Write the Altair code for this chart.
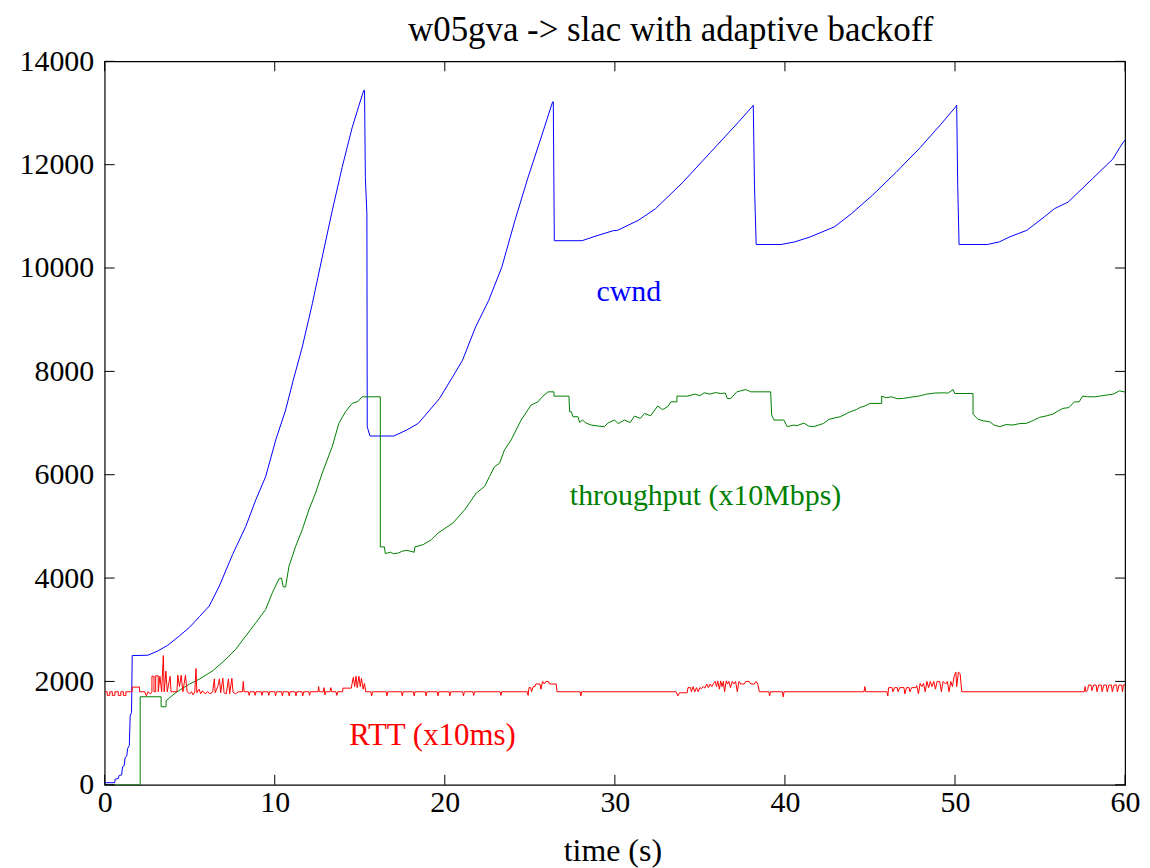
import altair as alt
import pandas as pd

# ---------------- data ----------------
cwnd_points = [
    (0, 40), (0.59, 40), (0.62, 110), (0.8, 120), (0.85, 180), (1.0, 190), (1.05, 350),
    (1.15, 370), (1.2, 520), (1.3, 560), (1.35, 700), (1.45, 760), (1.5, 1330), (1.58, 1400),
    (1.62, 2500), (2.54, 2507), (3.13, 2590), (3.71, 2700), (4.39, 2880), (5.0, 3050),
    (5.57, 3253), (6.15, 3459), (6.74, 3844), (7.52, 4455), (8.3, 5002), (8.89, 5516),
    (9.47, 5966), (10.06, 6673), (10.64, 7252), (11.09, 7830), (11.62, 8472), (12.21, 9308),
    (12.79, 10207), (13.38, 11107), (13.96, 11943), (14.55, 12714), (14.94, 13132),
    (15.23, 13434), (15.28, 13440), (15.33, 11750), (15.42, 11043), (15.44, 6929),
    (15.6, 6749), (17.0, 6749), (17.76, 6865), (18.44, 6994), (19.11, 7250), (19.69, 7476),
    (20.46, 7893), (21.04, 8215), (21.81, 8858), (22.58, 9372), (23.35, 10015),
    (24.12, 10915), (24.89, 11750), (25.66, 12522), (26.34, 13216), (26.38, 13216),
    (26.44, 10529), (28.07, 10529), (28.94, 10625), (29.9, 10722), (30.16, 10730),
    (31.38, 10923), (32.39, 11147), (34.0, 11660), (35.62, 12237), (37.24, 12814),
    (38.11, 13135), (38.14, 13150), (38.21, 11600), (38.31, 10455), (39.77, 10455),
    (40.58, 10506), (41.49, 10603), (42.9, 10795), (43.91, 11051), (45.13, 11404),
    (46.54, 11853), (47.96, 12333), (49.17, 12782), (50.08, 13135), (50.1, 13150),
    (50.16, 11600), (50.24, 10455), (51.9, 10455), (52.61, 10506), (53.22, 10603),
    (54.23, 10731), (55.24, 10987), (55.84, 11147), (56.65, 11276), (58.07, 11724),
    (59.28, 12109), (59.69, 12333), (60, 12480),
]

throughput_points = [
    (0, 0), (2.09, 0), (2.09, 1703), (3.32, 1703), (3.32, 1510), (3.61, 1510), (3.61, 1626),
    (4.2, 1787), (4.98, 1948), (5.57, 2044), (6.35, 2205), (7.13, 2430), (7.71, 2623),
    (8.3, 2880), (8.89, 3137), (9.47, 3394), (9.86, 3716), (10.25, 3986), (10.4, 4000),
    (10.5, 3830), (10.64, 3830), (10.84, 4230), (11.23, 4615), (11.62, 4937), (12.01, 5323),
    (12.4, 5644), (12.79, 6030), (13.38, 6544), (13.77, 6994), (14.16, 7219), (14.55, 7380),
    (14.9, 7420), (15.14, 7508), (16.21, 7508), (16.21, 4603), (16.45, 4603), (16.5, 4474),
    (16.8, 4500), (17.0, 4470), (17.28, 4487), (17.5, 4520), (17.77, 4538), (18.2, 4500),
    (18.24, 4603), (18.73, 4648), (19.22, 4744), (19.61, 4873), (20.48, 5066), (21.17, 5323),
    (21.85, 5644), (22.34, 5773), (22.63, 5966), (22.93, 6158), (23.22, 6223), (23.51, 6480),
    (23.9, 6673), (24.29, 6930), (24.49, 7058), (25.07, 7348), (25.48, 7411), (25.77, 7521),
    (26.07, 7604), (26.42, 7604), (26.42, 7521), (27.3, 7521), (27.34, 7218), (27.44, 7218),
    (27.54, 7122), (27.83, 7122), (27.93, 7013), (28.1, 7060), (28.3, 7000), (28.61, 6962),
    (29.0, 6943), (29.39, 6930), (29.59, 7000), (29.98, 7058), (30.2, 6990), (30.56, 7058),
    (30.9, 7010), (31.15, 7135), (31.5, 7090), (31.74, 7187), (32.1, 7140), (32.52, 7330),
    (32.8, 7260), (33.1, 7316), (33.3, 7411), (33.65, 7411), (33.65, 7521), (34.27, 7521),
    (34.7, 7560), (35.0, 7530), (35.25, 7585), (35.6, 7560), (35.9, 7590), (36.23, 7572),
    (36.5, 7580), (36.6, 7477), (36.82, 7477), (37.17, 7604), (37.7, 7649), (37.99, 7604),
    (39.16, 7604), (39.22, 7154), (39.36, 7058), (39.94, 7058), (40.13, 6930), (40.5, 6960),
    (40.72, 6950), (41.11, 7000), (41.4, 6940), (41.7, 6930), (42.28, 6994), (42.58, 7071),
    (43.07, 7110), (43.25, 7122), (43.6, 7180), (43.84, 7218), (44.2, 7260), (44.42, 7302),
    (44.7, 7330), (45.01, 7380), (45.69, 7380), (45.69, 7521), (45.95, 7490), (46.28, 7508),
    (46.6, 7470), (46.97, 7477), (47.4, 7500), (47.84, 7521), (48.1, 7540), (48.33, 7560),
    (48.8, 7580), (49.31, 7585), (49.6, 7580), (49.89, 7649), (49.99, 7572), (51.06, 7572),
    (51.06, 7173), (51.36, 7071), (51.7, 7040), (52.04, 7026), (52.3, 6960), (52.63, 6930),
    (53.0, 6970), (53.41, 6962), (53.8, 6990), (54.19, 6994), (54.6, 7050), (54.97, 7110),
    (55.4, 7140), (55.75, 7173), (56.1, 7240), (56.34, 7283), (56.7, 7300), (57.02, 7411),
    (57.3, 7411), (57.51, 7521), (57.8, 7510), (58.2, 7508), (58.5, 7520), (58.88, 7540),
    (59.3, 7560), (59.67, 7623), (60, 7600),
]

rtt_points = [
    (0, 1800), (0.15, 1800), (0.15, 1730), (0.3, 1730), (0.3, 1800), (0.45, 1800),
    (0.45, 1730), (0.6, 1730), (0.6, 1800), (0.8, 1800), (0.8, 1730), (0.95, 1730),
    (0.95, 1800), (1.1, 1800), (1.1, 1730), (1.25, 1730), (1.25, 1800), (1.62, 1800),
    (1.62, 1890), (2.05, 1890), (2.05, 1800), (2.35, 1800), (2.45, 1720), (2.55, 1800),
    (2.7, 1760), (2.78, 1800), (2.78, 2100), (2.9, 2100), (2.9, 1800), (3.0, 1800),
    (3.0, 2110), (3.15, 2110), (3.15, 1800), (3.25, 2100), (3.35, 1800), (3.45, 2500),
    (3.5, 1800), (3.6, 2200), (3.68, 1800), (3.85, 2100), (3.9, 1800), (4.25, 1800),
    (4.3, 2120), (4.4, 1900), (4.5, 2120), (4.6, 1800), (4.75, 2120), (4.85, 1800),
    (5.0, 1760), (5.1, 1800), (5.2, 1740), (5.3, 1800), (5.37, 2250), (5.42, 1780),
    (5.55, 1850), (5.65, 1760), (5.75, 1820), (5.9, 1760), (6.05, 1800), (6.2, 1760),
    (6.35, 1800), (6.45, 2050), (6.5, 1780), (6.65, 1900), (6.75, 2050), (6.82, 1780),
    (6.95, 2060), (7.02, 1780), (7.15, 1760), (7.28, 2050), (7.35, 1760), (7.48, 2060),
    (7.55, 1790), (7.7, 1760), (7.85, 1800), (8.1, 1800), (8.15, 2000), (8.2, 1800),
    (8.45, 1800), (8.5, 1730), (8.55, 1800), (8.8, 1800), (8.85, 1730), (8.9, 1800),
    (9.2, 1800), (9.25, 1730), (9.3, 1800), (9.6, 1800), (9.65, 1730), (9.7, 1800),
    (10.0, 1800), (10.05, 1720), (10.1, 1800), (10.4, 1800), (10.45, 1720), (10.5, 1800),
    (10.8, 1800), (10.85, 1720), (10.9, 1800), (11.2, 1800), (11.25, 1720), (11.3, 1800),
    (11.6, 1800), (11.65, 1720), (11.7, 1800), (12.0, 1800), (12.05, 1730), (12.1, 1800),
    (12.55, 1800), (12.58, 1900), (12.62, 1800), (12.85, 1800), (12.9, 1880), (12.95, 1740),
    (13.0, 1800), (13.25, 1800), (13.3, 1880), (13.35, 1800), (13.6, 1800), (13.65, 1730),
    (13.7, 1800), (14.0, 1800), (14.0, 1870), (14.5, 1870), (14.55, 1960), (14.62, 2080),
    (14.7, 1900), (14.78, 2100), (14.85, 1880), (14.95, 2100), (15.03, 1900), (15.1, 2060),
    (15.2, 1850), (15.28, 1960), (15.35, 1800), (15.65, 1800), (15.7, 1720), (15.75, 1800),
    (16.55, 1800), (16.6, 1720), (16.65, 1800), (17.45, 1800), (17.5, 1720), (17.55, 1800),
    (18.15, 1800), (18.2, 1720), (18.25, 1800), (18.85, 1800), (18.9, 1720), (18.95, 1800),
    (19.55, 1800), (19.6, 1720), (19.65, 1800), (20.25, 1800), (20.3, 1720), (20.35, 1800),
    (21.05, 1800), (21.1, 1720), (21.15, 1800), (21.65, 1800), (21.7, 1730), (21.75, 1800),
    (23.25, 1800), (23.3, 1730), (23.35, 1800), (24.85, 1800), (24.9, 1730), (24.95, 1880),
    (25.05, 1880), (25.1, 1800), (25.2, 1900), (25.3, 1900), (25.35, 1950), (25.6, 1950),
    (25.65, 1850), (25.75, 2000), (25.85, 1950), (25.95, 2000), (26.1, 2000), (26.15, 1950),
    (26.55, 1950), (26.6, 1800), (27.95, 1800), (28.0, 1720), (28.05, 1800), (33.6, 1800),
    (33.7, 1720), (33.8, 1780), (34.25, 1780), (34.3, 1880), (34.45, 1880), (34.5, 1800),
    (34.6, 1900), (34.7, 1800), (34.8, 1880), (34.9, 1800), (35.0, 1880), (35.1, 1860),
    (35.2, 1900), (35.3, 1870), (35.4, 1950), (35.5, 1880), (35.6, 1950), (35.7, 1900),
    (35.8, 1960), (35.9, 2000), (35.98, 1900), (36.05, 2010), (36.15, 1850), (36.22, 2010),
    (36.3, 1900), (36.38, 2000), (36.45, 1800), (36.55, 2010), (36.62, 1950), (36.7, 2000),
    (36.8, 1880), (36.9, 2000), (37.0, 1950), (37.1, 2000), (37.2, 1800), (37.3, 2000),
    (37.4, 1950), (37.6, 1950), (37.7, 2000), (37.9, 2000), (38.0, 1950), (38.2, 1950),
    (38.3, 2000), (38.4, 1950), (38.5, 1800), (39.05, 1800), (39.1, 1720), (39.15, 1800),
    (39.85, 1800), (39.9, 1700), (39.95, 1800), (44.65, 1800), (44.7, 1900), (44.75, 1800),
    (46.0, 1800), (46.05, 1720), (46.1, 1880), (46.3, 1880), (46.35, 1800), (46.45, 1880),
    (46.6, 1880), (46.65, 1800), (46.75, 1880), (47.0, 1880), (47.05, 1760), (47.15, 1880),
    (47.3, 1880), (47.35, 1800), (47.45, 1880), (47.7, 1880), (47.75, 1920), (47.85, 1760),
    (47.95, 1960), (48.05, 1900), (48.15, 1960), (48.25, 1800), (48.35, 2000), (48.45, 1880),
    (48.55, 2000), (48.65, 1900), (48.75, 2000), (48.85, 1850), (48.95, 2000), (49.1, 2000),
    (49.2, 1800), (49.3, 2000), (49.45, 1950), (49.55, 2000), (49.65, 1800), (49.75, 2000),
    (49.85, 1900), (49.95, 2100), (50.05, 2180), (50.1, 1900), (50.2, 2180), (50.3, 2150),
    (50.4, 1800), (57.6, 1800), (57.65, 1900), (57.7, 1800), (57.8, 1830), (57.85, 1930),
    (58.0, 1930), (58.05, 1820), (58.15, 1930), (58.3, 1930), (58.35, 1800), (58.45, 1930),
    (58.6, 1930), (58.65, 1800), (58.75, 1930), (58.9, 1930), (58.95, 1800), (59.05, 1930),
    (59.2, 1930), (59.25, 1800), (59.35, 1930), (59.5, 1930), (59.55, 1800), (59.65, 1930),
    (59.8, 1930), (59.85, 1800), (59.9, 1930), (60, 1930),
]

x_ticks = [0, 10, 20, 30, 40, 50, 60]
y_ticks = [0, 2000, 4000, 6000, 8000, 10000, 12000, 14000]

title_text = "w05gva -> slac with adaptive backoff"
x_title = "time (s)"
cwnd_label = "cwnd"
thr_label = "throughput (x10Mbps)"
rtt_label = "RTT (x10ms)"

# ---------------- build ----------------
FONT = "Liberation Serif"
W, H = 1024, 726


def frame(points):
    return pd.DataFrame({"i": range(len(points)),
                         "t": [p[0] for p in points],
                         "v": [p[1] for p in points]})


xs = alt.Scale(domain=[0, 60], nice=False, zero=False)
ys = alt.Scale(domain=[0, 14000], nice=False, zero=False)

x_axis = alt.Axis(values=x_ticks, ticks=False, tickSize=0, domain=False, grid=False,
                  labelFont=FONT, labelFontSize=30, labelColor="black",
                  labelPadding=3, labelFlush=False, title=None)
y_axis = alt.Axis(values=y_ticks, ticks=False, tickSize=0, domain=False, grid=False,
                  labelFont=FONT, labelFontSize=30, labelColor="black",
                  labelPadding=11, format="d", title=None)

X = alt.X("t:Q", scale=xs, axis=x_axis)
Y = alt.Y("v:Q", scale=ys, axis=y_axis)


def series(points, color):
    return alt.Chart(frame(points)).mark_line(color=color, strokeWidth=1, clip=True).encode(
        x=X, y=Y, order="i:Q")


cwnd_line = series(cwnd_points, "#0000ff")
thr_line = series(throughput_points, "#008000")
rtt_line = series(rtt_points, "#ff0000")

xt = pd.DataFrame({"t": x_ticks})
yt = pd.DataFrame({"v": y_ticks})
tick_bottom = alt.Chart(xt).mark_rule(color="black", strokeWidth=1).encode(
    x=X, y=alt.value(H), y2=alt.value(H - 10))
tick_top = alt.Chart(xt).mark_rule(color="black", strokeWidth=1).encode(
    x=X, y=alt.value(0), y2=alt.value(10))
tick_left = alt.Chart(yt).mark_rule(color="black", strokeWidth=1).encode(
    y=Y, x=alt.value(0), x2=alt.value(10))
tick_right = alt.Chart(yt).mark_rule(color="black", strokeWidth=1).encode(
    y=Y, x=alt.value(W), x2=alt.value(W - 10))


def label(text, color, px, py, size):
    return alt.Chart(pd.DataFrame({"s": [text]})).mark_text(
        font=FONT, fontSize=size, color=color, align="center", baseline="alphabetic"
    ).encode(text="s:N", x=alt.value(px), y=alt.value(py))


title_mark = label(title_text, "black", 568, -20, 35)
xtitle_mark = label(x_title, "black", 510, 802, 32)
cwnd_mark = label(cwnd_label, "#0000ff", 526, 241, 30)
thr_mark = label(thr_label, "#008000", 603, 445, 30)
rtt_mark = label(rtt_label, "#ff0000", 329, 686, 31)

chart = alt.layer(
    cwnd_line, thr_line, rtt_line,
    tick_bottom, tick_top, tick_left, tick_right,
    title_mark, xtitle_mark, cwnd_mark, thr_mark, rtt_mark,
).properties(
    width=W, height=H,
    autosize=alt.AutoSizeParams(type="none"),
    padding={"left": 97, "top": 52, "right": 17, "bottom": 82},
    background="white",
).configure_view(stroke="black", strokeWidth=1.2)

chart.save("out.html", embed_options={"renderer": "svg", "actions": False})
